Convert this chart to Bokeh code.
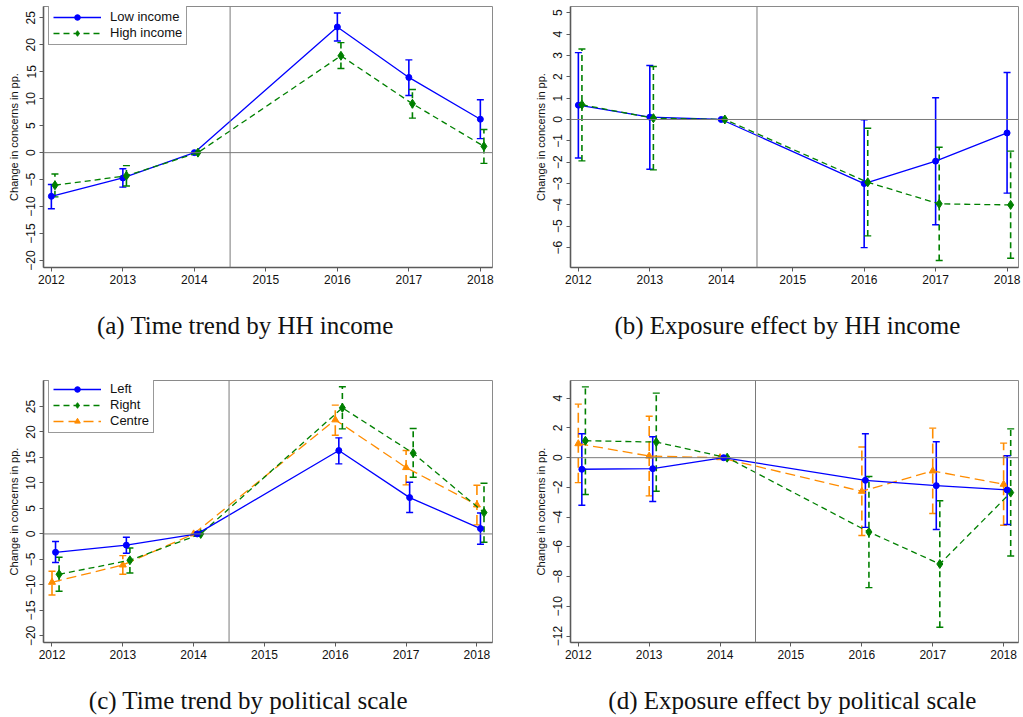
from bokeh.plotting import figure
from bokeh.models import ColumnDataSource, Whisker, TeeHead, Span, FixedTicker, Range1d
from bokeh.core.properties import value
from bokeh.layouts import column, row
from bokeh.embed import file_html
from bokeh.resources import INLINE

years = [2012, 2013, 2014, 2016, 2017, 2018]
year_ticks = [2012, 2013, 2014, 2015, 2016, 2017, 2018]

# (a) Time trend by HH income
a_low = [-8.1, -4.7, 0.0, 23.3, 13.95, 6.2]
a_low_hi = [-5.9, -3.0, 0.0, 25.9, 17.2, 9.8]
a_low_lo = [-10.4, -6.4, 0.0, 20.7, 10.6, 2.6]
a_high = [-6.05, -4.3, 0.0, 17.96, 9.07, 1.17]
a_high_hi = [-3.95, -2.4, 0.0, 20.4, 11.7, 4.3]
a_high_lo = [-8.2, -6.2, 0.0, 15.6, 6.4, -2.0]

# (b) Exposure effect by HH income
b_low = [0.67, 0.11, 0.0, -3.0, -1.95, -0.63]
b_low_hi = [3.13, 2.53, 0.0, -0.02, 1.02, 2.2]
b_low_lo = [-1.8, -2.33, 0.0, -6.0, -4.93, -3.45]
b_high = [0.69, 0.06, 0.0, -2.94, -3.95, -4.0]
b_high_hi = [3.3, 2.48, 0.0, -0.41, -1.3, -1.48]
b_high_lo = [-1.94, -2.36, 0.0, -5.45, -6.6, -6.5]

# (c) Time trend by political scale
c_left = [-3.6, -2.2, 0.0, 16.36, 7.13, 1.05]
c_left_hi = [-1.5, -0.65, 0.0, 18.85, 10.14, 4.12]
c_left_lo = [-5.6, -3.8, 0.0, 13.74, 4.19, -2.03]
c_right = [-7.92, -5.17, 0.0, 24.74, 15.84, 4.19]
c_right_hi = [-4.58, -2.75, 0.0, 28.86, 20.68, 9.95]
c_right_lo = [-11.26, -7.66, 0.0, 20.6, 11.13, -1.64]
c_centre = [-9.49, -6.09, 0.0, 22.38, 13.02, 5.69]
c_centre_hi = [-7.33, -4.25, 0.0, 25.26, 16.36, 9.55]
c_centre_lo = [-11.98, -7.92, 0.0, 19.37, 9.62, 1.77]

# (d) Exposure effect by political scale
d_left = [-0.78, -0.74, 0.0, -1.52, -1.88, -2.17]
d_left_hi = [1.61, 1.41, 0.0, 1.61, 1.07, 0.13]
d_left_lo = [-3.2, -2.95, 0.0, -4.69, -4.83, -4.49]
d_right = [1.14, 1.05, 0.0, -5.0, -7.15, -2.35]
d_right_hi = [4.76, 4.34, 0.0, -1.27, -2.9, 1.94]
d_right_lo = [-2.48, -2.26, 0.0, -8.74, -11.4, -6.61]
d_centre = [0.94, 0.11, 0.0, -2.26, -0.89, -1.79]
d_centre_hi = [3.6, 2.79, 0.0, 0.72, 1.99, 0.98]
d_centre_lo = [-1.68, -2.57, 0.0, -5.23, -3.75, -4.54]

captions = ["(a)  Time trend by HH income", "(b)  Exposure effect by HH income",
            "(c)  Time trend by political scale", "(d)  Exposure effect by political scale"]

BLUE = "#0000ff"
GREEN = "#008000"
ORANGE = "#ff8c00"
AXIS_FONT = "Liberation Sans"
CAP_FONT = "Liberation Serif"

STYLES = {
    "blue": dict(color=BLUE, dash="solid", marker="circle", msize=6),
    "green": dict(color=GREEN, dash="6 4", marker="diamond", msize=9),
    "orange": dict(color=ORANGE, dash="10 5", marker="triangle", msize=7),
}


def make_panel(width, height, borders, xr, yr, yticks):
    left, right, top, bottom = borders
    p = figure(width=width, height=height, output_backend="svg", toolbar_location=None,
               x_range=Range1d(*xr), y_range=Range1d(*yr),
               min_border_left=left, min_border_right=right,
               min_border_top=top, min_border_bottom=bottom)
    p.xgrid.visible = False
    p.ygrid.visible = False
    p.outline_line_color = "#8a8a8a"
    p.outline_line_width = 1
    p.background_fill_color = "white"
    p.border_fill_color = "white"
    for ax in (p.xaxis[0], p.yaxis[0]):
        ax.axis_line_color = "#5a5a5a"
        ax.axis_line_width = 1.6
        ax.major_tick_line_color = "#5a5a5a"
        ax.major_tick_line_width = 1
        ax.major_tick_out = 4
        ax.major_tick_in = 0
        ax.minor_tick_out = 0
        ax.minor_tick_in = 0
        ax.major_label_text_font = AXIS_FONT
        ax.major_label_text_font_size = "12px"
        ax.major_label_text_color = "#111111"
    p.xaxis.ticker = FixedTicker(ticks=year_ticks)
    p.xaxis.major_label_standoff = 3
    p.yaxis.ticker = FixedTicker(ticks=yticks)
    p.yaxis.major_label_orientation = "vertical"
    p.yaxis.major_label_standoff = 4
    p.yaxis.axis_label = "Change in concerns in pp."
    p.yaxis.axis_label_text_font = AXIS_FONT
    p.yaxis.axis_label_text_font_size = "11px"
    p.yaxis.axis_label_text_font_style = "normal"
    p.yaxis.axis_label_text_color = "#111111"
    p.yaxis.axis_label_standoff = 4
    p.add_layout(Span(location=0, dimension="width", line_color="#7a7a7a", line_width=1))
    p.add_layout(Span(location=2014.5, dimension="height", line_color="#7a7a7a", line_width=1))
    return p


def make_caption(width, height, text, x_mid, y_mid):
    c = figure(width=width, height=height, output_backend="svg", toolbar_location=None,
               x_range=Range1d(0, width), y_range=Range1d(0, height), min_border=0)
    c.axis.visible = False
    c.grid.visible = False
    c.outline_line_color = None
    c.background_fill_color = "white"
    c.border_fill_color = "white"
    c.text(x=[x_mid], y=[y_mid], text=[text], text_align="center", text_baseline="middle",
           text_font=value(CAP_FONT), text_font_size="25px", text_color="#111111")
    return c


def add_series(p, key, shift, vals, hi, lo, label=None):
    st = STYLES[key]
    xs = [y + shift for y in years]
    src = ColumnDataSource(dict(x=xs, y=vals))
    wx = [x for x, u, l in zip(xs, hi, lo) if u != l]
    wu = [u for u, l in zip(hi, lo) if u != l]
    wl = [l for u, l in zip(hi, lo) if u != l]
    wsrc = ColumnDataSource(dict(x=wx, upper=wu, lower=wl))
    head = dict(size=7, line_color=st["color"], line_width=1.4)
    w = Whisker(base="x", upper="upper", lower="lower", source=wsrc, dimension="height",
                line_color=st["color"], line_width=1.6, line_dash=st["dash"],
                upper_head=TeeHead(**head), lower_head=TeeHead(**head))
    p.add_layout(w)
    kw = {}
    if label:
        kw["legend_label"] = label
    p.line("x", "y", source=src, line_color=st["color"], line_width=1.3,
           line_dash=st["dash"], **kw)
    p.scatter("x", "y", source=src, marker=st["marker"], size=st["msize"],
              fill_color=st["color"], line_color=st["color"], **kw)


def style_legend(p, loc):
    lg = p.legend[0]
    lg.location = loc
    lg.label_text_font = AXIS_FONT
    lg.label_text_font_size = "13px"
    lg.label_text_color = "#111111"
    lg.glyph_width = 48
    lg.glyph_height = 14
    lg.label_height = 14
    lg.label_standoff = 9
    lg.spacing = 1
    lg.padding = 4
    lg.margin = 0
    lg.border_line_color = "#333333"
    lg.border_line_width = 1
    lg.background_fill_alpha = 1


# Panel (a)
pa = make_panel(511, 292, (43, 19, 6, 25), (2011.89, 2018.17), (-21.3, 27.1),
                [-20, -15, -10, -5, 0, 5, 10, 15, 20, 25])
add_series(pa, "blue", 0.0, a_low, a_low_hi, a_low_lo, "Low income")
add_series(pa, "green", 0.05, a_high, a_high_hi, a_high_lo, "High income")
style_legend(pa, (5, 222))

# Panel (b)
pb = make_panel(512, 292, (59, 5, 6, 25), (2011.89, 2018.16), (-6.93, 5.29),
                [-6, -5, -4, -3, -2, -1, 0, 1, 2, 3, 4, 5])
add_series(pb, "blue", 0.0, b_low, b_low_hi, b_low_lo)
add_series(pb, "green", 0.05, b_high, b_high_hi, b_high_lo)

# Panel (c)
pc = make_panel(511, 309, (43, 19, 22, 25), (2011.88, 2018.22), (-21.3, 30.1),
                [-20, -15, -10, -5, 0, 5, 10, 15, 20, 25])
add_series(pc, "orange", 0.0, c_centre, c_centre_hi, c_centre_lo, "Centre")
add_series(pc, "green", 0.1, c_right, c_right_hi, c_right_lo, "Right")
add_series(pc, "blue", 0.05, c_left, c_left_hi, c_left_lo, "Left")
style_legend(pc, (5, 209))
items = pc.legend[0].items
pc.legend[0].items = [items[2], items[1], items[0]]

# Panel (d)
pd_ = make_panel(512, 309, (59, 5, 22, 25), (2011.89, 2018.21), (-12.43, 5.19),
                 [-12, -10, -8, -6, -4, -2, 0, 2, 4])
add_series(pd_, "orange", 0.0, d_centre, d_centre_hi, d_centre_lo)
add_series(pd_, "green", 0.1, d_right, d_right_hi, d_right_lo)
add_series(pd_, "blue", 0.05, d_left, d_left_hi, d_left_lo)

cap_a = make_caption(511, 66, captions[0], 248, 33)
cap_b = make_caption(512, 66, captions[1], 279, 33)
cap_c = make_caption(511, 50, captions[2], 251, 17)
cap_d = make_caption(512, 50, captions[3], 284, 17)

layout = column(row(pa, pb, spacing=0), row(cap_a, cap_b, spacing=0),
                row(pc, pd_, spacing=0), row(cap_c, cap_d, spacing=0), spacing=0)

open("out.html", "w").write(file_html(layout, INLINE))
